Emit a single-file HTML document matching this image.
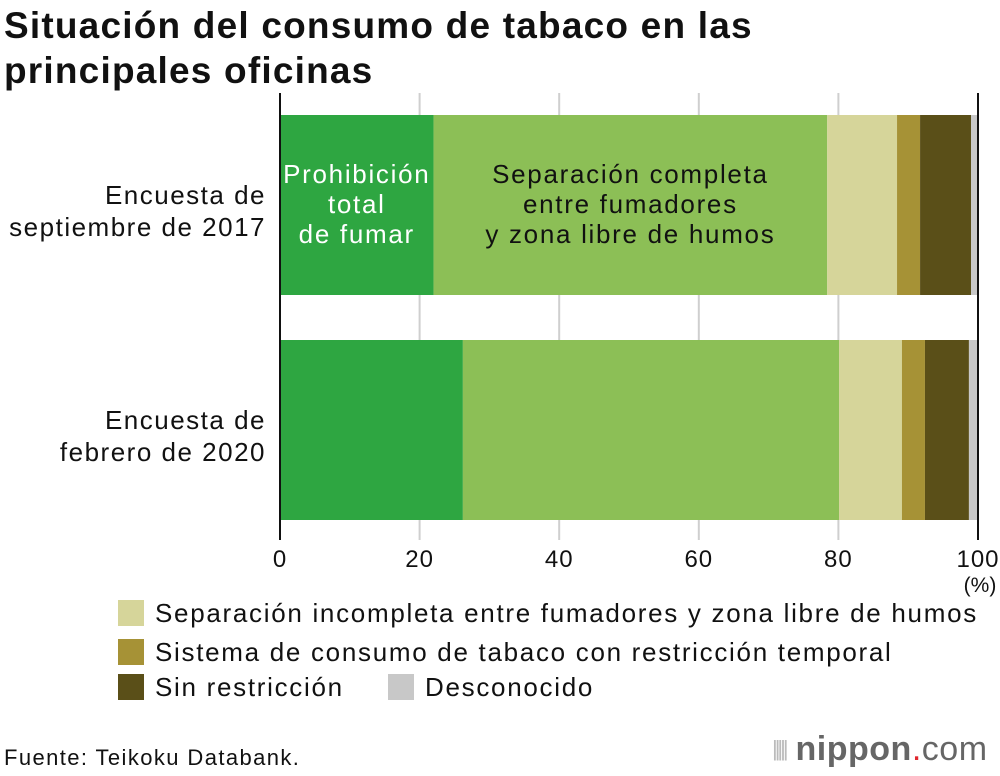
<!DOCTYPE html>
<html><head><meta charset="utf-8"><style>
body{margin:0;background:#fff;font-family:"Liberation Sans",sans-serif;}
#wrap{position:relative;width:1000px;height:776px;overflow:hidden;}
.t{position:absolute;color:#111;}
</style></head><body>
<div id="wrap">
<div class="t" style="left:4px;top:3px;font-size:37px;font-weight:bold;line-height:45px;letter-spacing:1.2px">Situación del consumo de tabaco en las<br>principales oficinas</div>
<svg id="chart" width="1000" height="776" style="position:absolute;left:0;top:0"></svg>
<div class="t" style="left:4px;top:745px;font-size:22px;letter-spacing:1.4px">Fuente: Teikoku Databank.</div>
<div style="position:absolute;left:772px;top:730px;width:228px;white-space:nowrap;font-size:34px;color:#666;letter-spacing:0.5px">
<span style="font-size:22px;color:#bbb;letter-spacing:-3px;vertical-align:4px">|||||</span> <b>nippon</b><span style="color:#e0262d">.</span>com</div>
</div>
<script>
const categories=["Encuesta de\nseptiembre de 2017","Encuesta de\nfebrero de 2020"];
const seriesNames=["Prohibición total de fumar","Separación completa entre fumadores y zona libre de humos","Separación incompleta entre fumadores y zona libre de humos","Sistema de consumo de tabaco con restricción temporal","Sin restricción","Desconocido"];
const colors=["#2ea641","#8cbf56","#d6d59a","#a69236","#5a4f18","#c8c8c8"];
const values2017=[22.0,56.4,10.0,3.3,7.3,1.0];
const values2020=[26.2,53.9,9.0,3.3,6.3,1.3];
const ticks=[0,20,40,60,80,100];
const NS="http://www.w3.org/2000/svg";
const svg=document.getElementById('chart');
const x=v=>280+v*6.98;
const barTops=[115,340],barH=180;
function mk(t,a){const e=document.createElementNS(NS,t);for(const k in a)e.setAttribute(k,a[k]);svg.appendChild(e);return e;}
ticks.forEach((t,i)=>{
 if(t>0&&t<100){const g=mk('line',{x1:x(t),x2:x(t),y1:93,y2:540,stroke:'#cfcfcf','stroke-width':2});
 
 }
});
[values2017,values2020].forEach((vals,bi)=>{
 let acc=0;
 vals.forEach((v,si)=>{
  const r=mk('rect',{x:x(acc),y:barTops[bi],width:x(acc+v)-x(acc),height:barH,fill:colors[si]});
  
  
  acc+=v;
 });
 const lines=categories[bi].split('\n');
 lines.forEach((l,li)=>{
  const tx=mk('text',{x:266,y:barTops[bi]+barH/2-1+li*32,'text-anchor':'end','font-size':26,'letter-spacing':1.5,fill:'#111'});
  tx.textContent=l;
  
  
 });
});
[[0],[100]].forEach(([t])=>{const a=mk('line',{x1:x(t),x2:x(t),y1:93,y2:540,stroke:'#111','stroke-width':2});

});
ticks.forEach(t=>{const tx=mk('text',{x:x(t),y:567,'text-anchor':'middle','font-size':24,'letter-spacing':1,fill:'#111'});tx.textContent=t;

});
const pu=mk('text',{x:980,y:592,'text-anchor':'middle','font-size':21,fill:'#111'});pu.textContent='(%)';


function inLabel(lines,cx,y0,col){lines.forEach((l,i)=>{const t=mk('text',{x:cx,y:y0+i*30,'text-anchor':'middle','font-size':26,'letter-spacing':1.7,fill:col});t.textContent=l;

});}
inLabel(["Prohibición","total","de fumar"],(x(0)+x(values2017[0]))/2,183,'#fff');
inLabel(["Separación completa","entre fumadores","y zona libre de humos"],(x(values2017[0])+x(values2017[0]+values2017[1]))/2,183,'#111');
const leg=[[2,118,612],[3,118,651],[4,118,686],[5,388,686]];
leg.forEach(([si,lx,ly])=>{
 const r=mk('rect',{x:lx,y:ly-12,width:26,height:26,fill:colors[si]});
 
 
 const t=mk('text',{x:lx+37,y:ly+10,'font-size':26,'letter-spacing':1.7,fill:'#111'});t.textContent=seriesNames[si];
 
 
});
</script>
</body></html>
